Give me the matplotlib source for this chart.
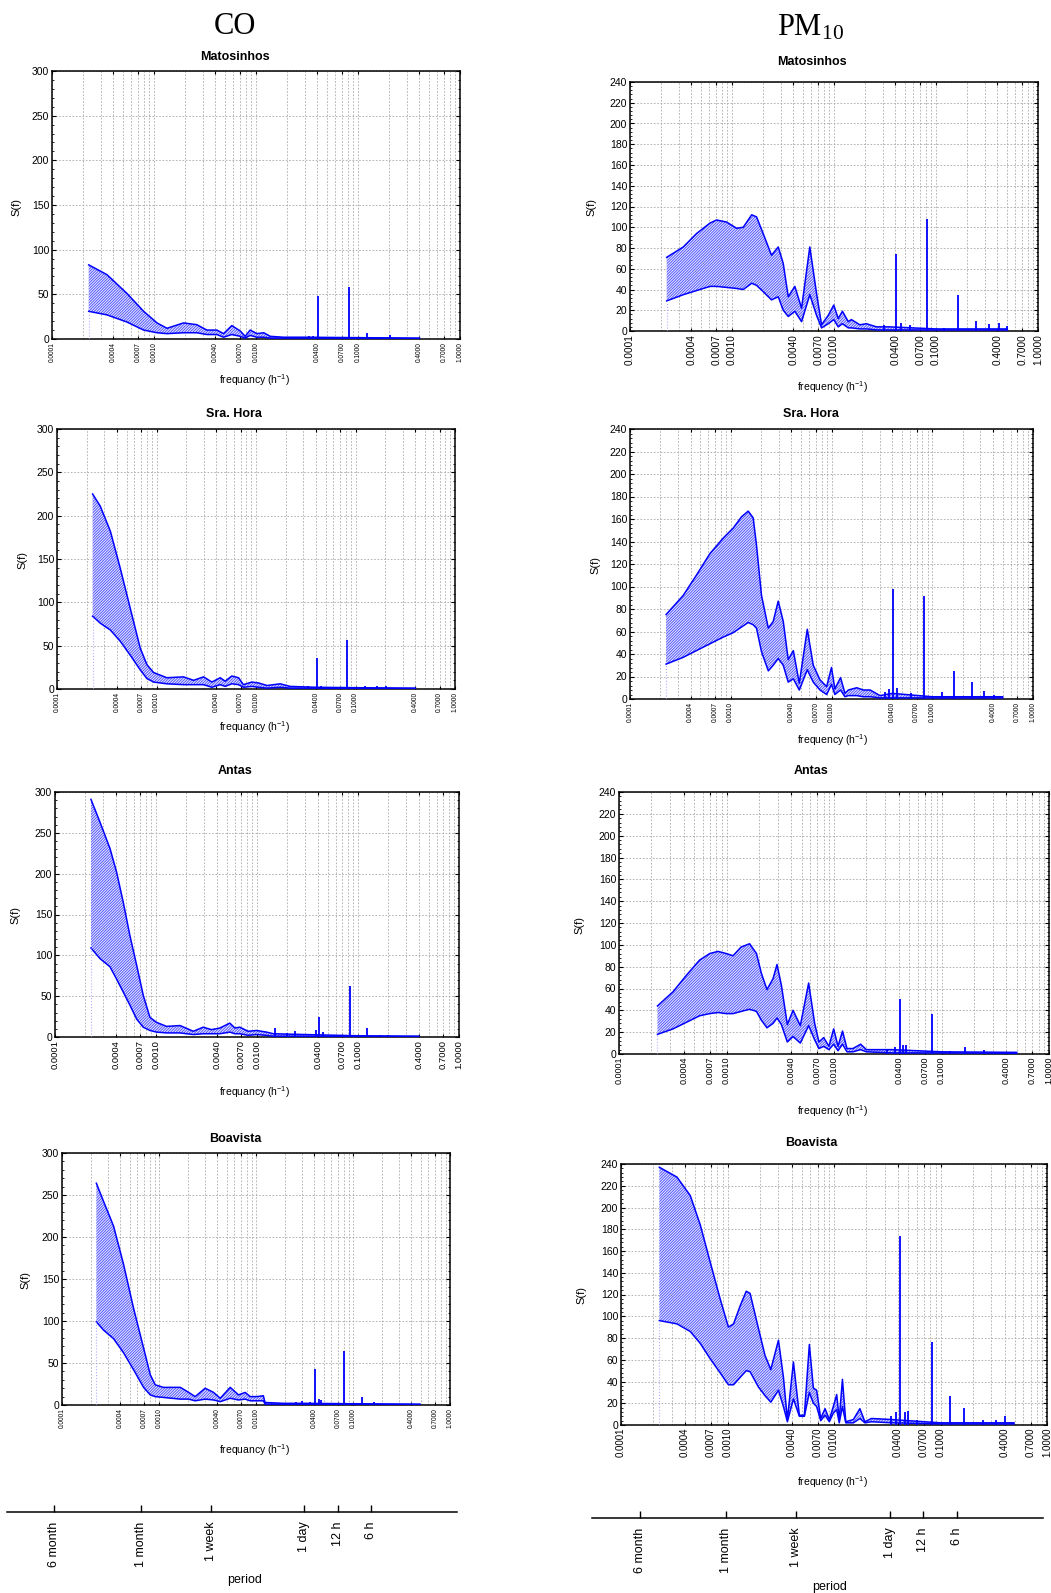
import numpy as np
import matplotlib
matplotlib.use("Agg")
import matplotlib.pyplot as plt
from matplotlib.ticker import FixedLocator, LogLocator, NullFormatter, MultipleLocator

plt.rcParams['font.family'] = ['Liberation Sans', 'DejaVu Sans']
plt.rcParams['hatch.linewidth'] = 0.6
plt.rcParams['mathtext.fontset'] = 'custom'
plt.rcParams['mathtext.rm'] = 'Liberation Serif'
plt.rcParams['mathtext.sf'] = 'Liberation Sans'
plt.rcParams['mathtext.it'] = 'Liberation Serif:italic'

W, H = 1051, 1593

# ---- CO, Matosinhos ----
co_mat_f = [2.29e-4, 3.46e-4, 5.43e-4, 7.91e-4, 1.07e-3, 1.34e-3, 1.95e-3, 2.63e-3, 3.30e-3, 4.13e-3,
            4.81e-3, 5.79e-3, 7.00e-3, 7.83e-3, 8.77e-3, 1.02e-2, 1.19e-2, 1.38e-2, 1.86e-2, 0.03, 0.1, 0.4]
co_mat_up = [83, 72, 51, 31, 18, 12, 18, 16, 10, 10, 6, 15, 9, 3, 10, 6, 7, 3, 2, 2, 1.5, 1]
co_mat_lo = [31, 27, 19, 10, 7, 6, 7, 7, 5, 5, 2, 5, 3, 1, 4, 2, 2, 1, 1, 1, 0.8, 0.5]
co_mat_sf = [0.0409, 0.0819, 0.122, 0.165, 0.206, 0.033, 0.036, 0.05]
co_mat_sv = [48, 58, 7, 2, 5, 3, 3, 2]

# ---- PM10, Matosinhos ----
pm_mat_f = [2.29e-4, 3.33e-4, 4.50e-4, 6.08e-4, 7.06e-4, 8.85e-4, 1.11e-3, 1.29e-3, 1.56e-3, 1.74e-3,
            2.02e-3, 2.44e-3, 2.84e-3, 3.18e-3, 3.56e-3, 4.13e-3, 4.81e-3, 5.79e-3, 6.75e-3, 7.55e-3,
            8.77e-3, 9.95e-3, 1.10e-2, 1.21e-2, 1.38e-2, 1.48e-2, 1.79e-2, 2.08e-2, 2.61e-2, 0.035, 0.1, 0.5]
pm_mat_up = [71, 81, 94, 104, 107, 105, 99, 100, 112, 110, 94, 73, 81, 65, 33, 43, 22, 81, 36, 6,
             15, 25, 12, 19, 9, 11, 6, 7, 4, 4, 2, 2]
pm_mat_lo = [29, 35, 39, 43, 43, 42, 41, 40, 46, 44, 38, 30, 33, 20, 14, 19, 9, 35, 15, 3,
             7, 11, 4, 7, 3, 3, 2, 2, 1, 1, 1, 1]
pm_mat_sf = [0.0409, 0.0824, 0.164, 0.249, 0.329, 0.41, 0.5, 0.031, 0.045, 0.055, 0.12]
pm_mat_sv = [74, 108, 35, 10, 7, 8, 5, 6, 8, 6, 3]

# ---- CO, Sra. Hora ----
co_sh_f = [2.28e-4, 2.72e-4, 3.44e-4, 4.33e-4, 5.45e-4, 6.87e-4, 8.02e-4, 9.35e-4, 1.27e-3, 1.87e-3,
           2.36e-3, 2.97e-3, 3.60e-3, 4.37e-3, 4.90e-3, 5.71e-3, 6.67e-3, 7.48e-3, 9.08e-3, 1.06e-2,
           1.29e-2, 1.75e-2, 2.20e-2, 0.04, 0.1, 0.4]
co_sh_up = [225, 211, 182, 139, 93, 47, 28, 19, 13, 14, 10, 14, 8, 13, 9, 15, 13, 5, 8, 7, 4, 6, 3, 2, 1.5, 1]
co_sh_lo = [84, 76, 68, 55, 39, 22, 12, 8, 6, 5, 5, 5, 2, 5, 3, 6, 5, 2, 3, 2, 1, 2, 1, 1, 0.7, 0.5]
co_sh_sf = [0.0411, 0.0830, 0.125, 0.165, 0.204, 0.033, 0.045]
co_sh_sv = [36, 57, 4, 3, 3, 4, 3]

# ---- PM10, Sra. Hora ----
pm_sh_f = [2.28e-4, 3.37e-4, 4.56e-4, 6.19e-4, 8.41e-4, 1.06e-3, 1.28e-3, 1.49e-3, 1.67e-3, 1.80e-3,
           2.02e-3, 2.36e-3, 2.64e-3, 2.96e-3, 3.32e-3, 3.72e-3, 4.18e-3, 4.79e-3, 5.75e-3, 6.59e-3,
           7.69e-3, 8.95e-3, 1.00e-2, 1.08e-2, 1.23e-2, 1.36e-2, 1.47e-2, 1.78e-2, 2.07e-2, 2.42e-2,
           3.03e-2, 0.04, 0.1, 0.5]
pm_sh_up = [75, 92, 110, 129, 143, 152, 162, 167, 161, 137, 92, 63, 69, 87, 69, 35, 43, 14, 62, 30,
            17, 11, 28, 9, 19, 5, 8, 10, 8, 8, 3, 5, 2, 2]
pm_sh_lo = [31, 37, 43, 49, 55, 59, 64, 68, 66, 63, 42, 25, 30, 36, 30, 15, 18, 8, 26, 15,
            8, 4, 13, 4, 8, 2, 3, 3, 2, 2, 1, 1, 1, 1]
pm_sh_sf = [0.0412, 0.0832, 0.165, 0.248, 0.328, 0.413, 0.125, 0.062, 0.037, 0.045, 0.034]
pm_sh_sv = [98, 92, 25, 15, 7, 4, 6, 5, 9, 10, 6]

# ---- CO, Antas ----
co_ant_f = [2.27e-4, 2.79e-4, 3.50e-4, 4.07e-4, 4.74e-4, 5.52e-4, 6.43e-4, 7.48e-4, 8.71e-4, 1.01e-3,
            1.27e-3, 1.73e-3, 2.34e-3, 2.93e-3, 3.55e-3, 4.29e-3, 5.38e-3, 6.04e-3, 6.76e-3, 8.18e-3,
            9.89e-3, 1.24e-2, 1.45e-2, 0.03, 0.1, 0.4]
co_ant_up = [291, 263, 231, 202, 165, 124, 88, 51, 24, 18, 13, 14, 7, 12, 9, 11, 17, 11, 12, 7,
             8, 6, 4, 3, 1.5, 1]
co_ant_lo = [109, 96, 86, 71, 55, 39, 22, 12, 8, 6, 5, 5, 3, 4, 4, 4, 6, 4, 4, 2,
             3, 2, 1, 1, 0.7, 0.5]
co_ant_sf = [0.0412, 0.0828, 0.124, 0.0151, 0.024, 0.038, 0.165, 0.2, 0.02, 0.045]
co_ant_sv = [24, 63, 11, 11, 7, 8, 2, 2, 5, 6]

# ---- PM10, Antas ----
pm_ant_f = [2.28e-4, 3.18e-4, 4.23e-4, 5.62e-4, 6.97e-4, 8.34e-4, 9.95e-4, 1.15e-3, 1.37e-3, 1.64e-3,
            1.90e-3, 2.11e-3, 2.38e-3, 2.71e-3, 2.95e-3, 3.24e-3, 3.68e-3, 4.16e-3, 4.86e-3, 5.81e-3,
            6.61e-3, 7.24e-3, 8.02e-3, 8.97e-3, 9.93e-3, 1.09e-2, 1.20e-2, 1.32e-2, 1.50e-2, 1.77e-2,
            2.00e-2, 0.035, 0.1, 0.5]
pm_ant_up = [44, 57, 72, 86, 92, 94, 92, 90, 98, 101, 92, 74, 59, 69, 82, 63, 27, 40, 26, 65,
             28, 11, 15, 7, 23, 7, 21, 5, 5, 9, 4, 4, 2, 1.5]
pm_ant_lo = [18, 23, 29, 35, 37, 38, 37, 37, 39, 41, 39, 31, 24, 28, 33, 27, 11, 16, 10, 26,
             13, 5, 7, 4, 9, 3, 9, 2, 2, 4, 2, 1, 1, 0.7]
pm_ant_sf = [0.0412, 0.0822, 0.044, 0.047, 0.165, 0.249, 0.42, 0.12, 0.031, 0.037]
pm_ant_sv = [50, 37, 8, 8, 6, 4, 2, 3, 5, 6]

# ---- CO, Boavista ----
co_boa_f = [2.26e-4, 2.69e-4, 3.40e-4, 4.32e-4, 5.47e-4, 6.93e-4, 8.13e-4, 9.14e-4, 1.11e-3, 1.66e-3,
            2.02e-3, 2.36e-3, 2.99e-3, 3.65e-3, 4.28e-3, 5.42e-3, 6.61e-3, 7.73e-3, 8.71e-3, 1.02e-2,
            1.19e-2, 1.24e-2, 1.92e-2, 0.03, 0.1, 0.49]
co_boa_up = [264, 242, 213, 167, 115, 68, 36, 24, 21, 21, 15, 10, 20, 15, 8, 21, 12, 15, 10, 10,
             11, 3, 2, 2, 1.5, 1]
co_boa_lo = [99, 89, 79, 62, 42, 21, 12, 10, 9, 7, 7, 5, 7, 6, 4, 8, 6, 7, 5, 5,
             5, 1, 1, 1, 0.7, 0.5]
co_boa_sf = [0.0406, 0.0817, 0.123, 0.165, 0.045, 0.030, 0.026, 0.047, 0.036]
co_boa_sv = [43, 64, 10, 4, 7, 5, 4, 6, 4]

# ---- PM10, Boavista ----
pm_boa_f = [2.29e-4, 3.35e-4, 4.47e-4, 5.55e-4, 6.87e-4, 8.53e-4, 1.02e-3, 1.14e-3, 1.32e-3, 1.50e-3,
            1.63e-3, 1.95e-3, 2.25e-3, 2.55e-3, 3.01e-3, 3.35e-3, 3.65e-3, 4.16e-3, 4.73e-3, 5.27e-3,
            5.87e-3, 6.40e-3, 6.87e-3, 7.50e-3, 8.24e-3, 9.04e-3, 9.86e-3, 1.06e-2, 1.12e-2, 1.20e-2,
            1.29e-2, 1.52e-2, 1.75e-2, 1.95e-2, 2.25e-2, 0.035, 0.1, 0.49]
pm_boa_up = [237, 228, 211, 184, 150, 116, 90, 93, 110, 123, 121, 89, 64, 51, 78, 44, 5, 58, 9, 9,
             74, 34, 32, 6, 15, 5, 17, 28, 5, 42, 3, 5, 15, 3, 6, 5, 2, 2]
pm_boa_lo = [96, 93, 86, 75, 61, 48, 37, 37, 44, 50, 49, 35, 27, 21, 32, 17, 3, 24, 8, 8,
             30, 20, 17, 4, 9, 3, 11, 14, 2, 17, 2, 2, 6, 2, 3, 2, 1, 1]
pm_boa_sf = [0.0416, 0.0825, 0.122, 0.166, 0.25, 0.33, 0.40, 0.038, 0.046, 0.05, 0.034, 0.06]
pm_boa_sv = [174, 76, 27, 16, 5, 5, 8, 12, 12, 13, 8, 5]

# x tick values on the frequency axes
freq_ticks = [1e-4, 4e-4, 7e-4, 1e-3, 4e-3, 7e-3, 1e-2, 4e-2, 7e-2, 1e-1, 4e-1, 7e-1, 1.0]

# period axis (hours)
period_hours = [4380, 720, 168, 24, 12, 6]
period_labels = ['6 month', '1 month', '1 week', '1 day', '12 h', '6 h']

BLUE = '#0000ff'
GRID = '#a8a8a8'

fig = plt.figure(figsize=(W / 100, H / 100), dpi=100)


def px_axes(l, t, r, b):
    return fig.add_axes([l / W, 1 - b / H, (r - l) / W, (b - t) / H])


def draw_panel(box, f, up, lo, sf, sv, ymax, ystep, xfs, title, tpos, xlabel, xlpos, ylpos):
    ax = px_axes(*box)
    ax.set_xscale('log')
    ax.set_xlim(1e-4, 1.0)
    ax.set_ylim(0, ymax)

    ax.fill_between(f, lo, up, facecolor='#e2e4ff', edgecolor='#4848ff',
                    hatch='/' * 12, linewidth=0, zorder=2)
    ax.plot(f, up, color=BLUE, lw=1.1, zorder=3)
    ax.plot(f, lo, color=BLUE, lw=1.1, zorder=3)
    ax.vlines(f[0], 0, lo[0], color='#b0b0ff', lw=0.8, ls=':', zorder=3)
    ax.vlines(sf, 0, sv, color=BLUE, lw=1.3, zorder=3)

    ax.xaxis.set_major_locator(FixedLocator(freq_ticks))
    ax.set_xticklabels([f'{v:.4f}' for v in freq_ticks], rotation=90, fontsize=xfs)
    ax.xaxis.set_minor_locator(LogLocator(base=10, subs=np.arange(1, 10), numticks=20))
    ax.xaxis.set_minor_formatter(NullFormatter())
    ax.yaxis.set_major_locator(MultipleLocator(ystep))
    ax.yaxis.set_minor_locator(MultipleLocator(ystep / 5))
    ax.tick_params(axis='y', labelsize=7.5, direction='in', left=True, right=True, length=3, pad=2)
    ax.tick_params(axis='y', which='minor', direction='in', left=True, right=True, length=1.5)
    ax.tick_params(axis='x', direction='in', top=True, bottom=True, length=2.5, pad=2)
    ax.tick_params(axis='x', which='minor', length=0)

    ax.grid(True, axis='x', which='both', ls=(0, (2, 2)), color=GRID, lw=0.6, zorder=0)
    ax.grid(True, axis='y', which='major', ls=(0, (2, 2)), color=GRID, lw=0.6, zorder=0)
    ax.set_axisbelow(True)
    for s in ax.spines.values():
        s.set_linewidth(1.1)

    fig.text(tpos[0] / W, 1 - tpos[1] / H, title, ha='center', va='center',
             fontsize=9, fontweight='bold')
    fig.text(xlpos[0] / W, 1 - xlpos[1] / H, xlabel, ha='center', va='center', fontsize=7.5)
    fig.text(ylpos[0] / W, 1 - ylpos[1] / H, 'S(f)', ha='center', va='center',
             fontsize=8, rotation=90)
    return ax


co_xl = r'frequancy (h$^{\mathsf{-1}}$)'
pm_xl = r'frequency (h$^{\mathsf{-1}}$)'

draw_panel((52, 71, 460, 339), co_mat_f, co_mat_up, co_mat_lo, co_mat_sf, co_mat_sv,
           300, 50, 4.7, 'Matosinhos', (235, 57), co_xl, (255, 380), (16, 207))
draw_panel((630, 82, 1038, 331), pm_mat_f, pm_mat_up, pm_mat_lo, pm_mat_sf, pm_mat_sv,
           240, 20, 7.2, 'Matosinhos', (812, 62), pm_xl, (833, 387), (591, 207))
draw_panel((57, 429, 455, 689), co_sh_f, co_sh_up, co_sh_lo, co_sh_sf, co_sh_sv,
           300, 50, 4.8, 'Sra. Hora', (234, 414), co_xl, (255, 727), (22, 560))
draw_panel((630, 429, 1033, 699), pm_sh_f, pm_sh_up, pm_sh_lo, pm_sh_sf, pm_sh_sv,
           240, 20, 4.8, 'Sra. Hora', (811, 414), pm_xl, (833, 740), (595, 565))
draw_panel((55, 792, 459, 1037), co_ant_f, co_ant_up, co_ant_lo, co_ant_sf, co_ant_sv,
           300, 50, 6.8, 'Antas', (235, 771), co_xl, (255, 1092), (15, 915))
draw_panel((619, 792, 1049, 1054), pm_ant_f, pm_ant_up, pm_ant_lo, pm_ant_sf, pm_ant_sv,
           240, 20, 6.5, 'Antas', (811, 771), pm_xl, (833, 1111), (579, 925))
draw_panel((62, 1153, 450, 1405), co_boa_f, co_boa_up, co_boa_lo, co_boa_sf, co_boa_sv,
           300, 50, 4.7, 'Boavista', (235, 1139), co_xl, (255, 1450), (25, 1280))
draw_panel((621, 1164, 1047, 1425), pm_boa_f, pm_boa_up, pm_boa_lo, pm_boa_sf, pm_boa_sv,
           240, 20, 7.0, 'Boavista', (811, 1143), pm_xl, (833, 1482), (581, 1295))

# column headings
fig.text(235 / W, 1 - 26 / H, 'CO', ha='center', va='center', fontsize=22,
         family=['Liberation Serif', 'DejaVu Serif'])
fig.text(810 / W, 1 - 28 / H, r'PM$_{\mathrm{10}}$', ha='center', va='center', fontsize=22,
         family=['Liberation Serif', 'DejaVu Serif'])


def draw_period_axis(l, r, y, label_pos):
    ax = px_axes(l, y - 20, r, y)
    ax.set_xscale('log')
    ax.set_xlim(8.5e-5, 1.0)
    ax.set_ylim(0, 1)
    ax.patch.set_visible(False)
    for side in ('top', 'left', 'right'):
        ax.spines[side].set_visible(False)
    ax.spines['bottom'].set_linewidth(1.1)
    ax.set_yticks([])
    pf = 1.0 / np.array(period_hours, dtype=float)
    ax.xaxis.set_major_locator(FixedLocator(pf))
    ax.xaxis.set_minor_locator(FixedLocator([]))
    ax.set_xticklabels(period_labels, rotation=90, fontsize=9, va='top')
    ax.tick_params(axis='x', direction='in', length=5, width=1, pad=7)
    fig.text(label_pos[0] / W, 1 - label_pos[1] / H, 'period', ha='center', va='center',
             fontsize=9)


draw_period_axis(7, 457, 1512, (245, 1580))
draw_period_axis(592, 1043, 1518, (830, 1587))

fig.savefig('out.png', dpi=100)
